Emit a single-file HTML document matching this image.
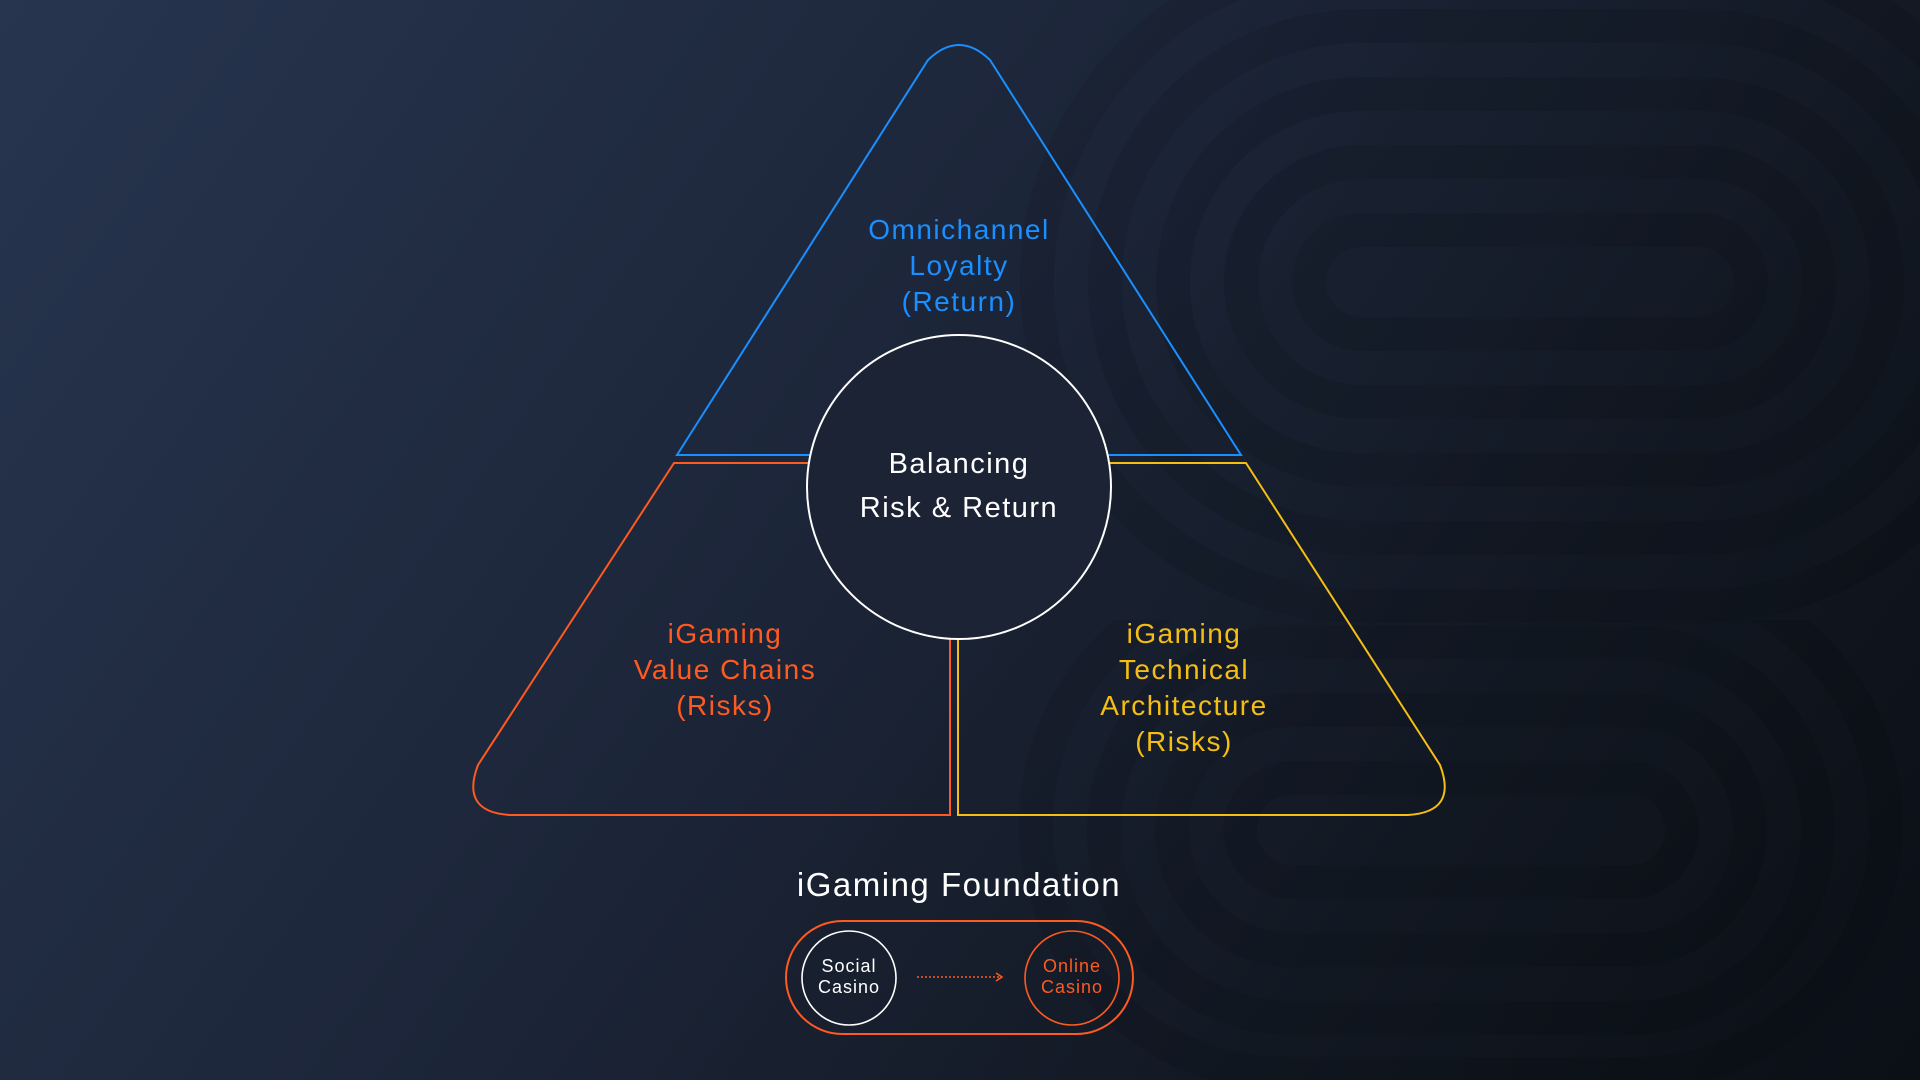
<!DOCTYPE html>
<html><head><meta charset="utf-8"><style>
html,body{margin:0;padding:0;width:1920px;height:1080px;overflow:hidden}
body{background:linear-gradient(125deg,#27354f 0%,#1c2538 45%,#121822 75%,#0b0f16 100%);font-family:"Liberation Sans",sans-serif}
svg{position:absolute;left:0;top:0;overflow:hidden;display:block}
</style></head><body>
<svg width="1920" height="1080" viewBox="0 0 1920 1080">
<defs><clipPath id="lo"><rect x="0" y="620" width="1920" height="460"/></clipPath><clipPath id="all"><rect x="0" y="0" width="1920" height="1080"/></clipPath></defs>
<g clip-path="url(#all)">
<g fill="none" stroke="#000" stroke-opacity="0.09" stroke-width="34">
<rect x="1309" y="230" width="442" height="104" rx="52"/>
<rect x="1241" y="162" width="578" height="240" rx="120"/>
<rect x="1173" y="94" width="714" height="376" rx="188"/>
<rect x="1105" y="26" width="850" height="512" rx="256"/>
<rect x="1037" y="-42" width="986" height="648" rx="324"/>
</g>
<g fill="none" stroke="#000" stroke-opacity="0.08" stroke-width="34" clip-path="url(#lo)">
<rect x="1240" y="778" width="442" height="104" rx="52"/>
<rect x="1172" y="710" width="578" height="240" rx="120"/>
<rect x="1104" y="642" width="714" height="376" rx="188"/>
<rect x="1036" y="574" width="850" height="500" rx="250"/>
</g>
</g>
<path d="M677 455 L928 60 Q959 30 990 60 L1241 455 Z" fill="none" stroke="#1a8fff" stroke-width="2"/>
<path d="M674 463 L950 463 L950 815 L510 815 Q460 812 478 765 Z" fill="none" stroke="#ff5a1f" stroke-width="2"/>
<path d="M958 463 L1246 463 L1440 765 Q1458 812 1408 815 L958 815 Z" fill="none" stroke="#f5be14" stroke-width="2"/>
<circle cx="959" cy="487" r="152" fill="#1b2335" stroke="#ffffff" stroke-width="2"/>
<g font-family="Liberation Sans, sans-serif" text-anchor="middle" letter-spacing="1.5">
<g fill="#1a8fff" font-size="28"><text x="959" y="239">Omnichannel</text><text x="959" y="275">Loyalty</text><text x="959" y="311">(Return)</text></g>
<g fill="#ffffff" font-size="29"><text x="959" y="473">Balancing</text><text x="959" y="517">Risk &amp; Return</text></g>
<g fill="#ff5a1f" font-size="28"><text x="725" y="643">iGaming</text><text x="725" y="679">Value Chains</text><text x="725" y="715">(Risks)</text></g>
<g fill="#f5be14" font-size="28"><text x="1184" y="643">iGaming</text><text x="1184" y="679">Technical</text><text x="1184" y="715">Architecture</text><text x="1184" y="751">(Risks)</text></g>
<text x="959" y="896" fill="#ffffff" font-size="33">iGaming Foundation</text>
</g>
<rect x="786" y="921" width="347" height="113" rx="56.5" fill="none" stroke="#ff5a1f" stroke-width="2"/>
<circle cx="849" cy="978" r="47" fill="none" stroke="#ffffff" stroke-width="1.6"/>
<circle cx="1072" cy="978" r="47" fill="none" stroke="#ff5a1f" stroke-width="1.6"/>
<line x1="917" y1="977" x2="1000" y2="977" stroke="#ff5a1f" stroke-width="1.5" stroke-dasharray="2 2"/>
<path d="M996 973 L1002 977 L996 981" fill="none" stroke="#ff5a1f" stroke-width="1.5"/>
<g font-family="Liberation Sans, sans-serif" text-anchor="middle" font-size="18" letter-spacing="1">
<text x="849" y="972" fill="#fff">Social</text><text x="849" y="993" fill="#fff">Casino</text>
<text x="1072" y="972" fill="#ff5a1f">Online</text><text x="1072" y="993" fill="#ff5a1f">Casino</text>
</g>
</svg>
</body></html>
